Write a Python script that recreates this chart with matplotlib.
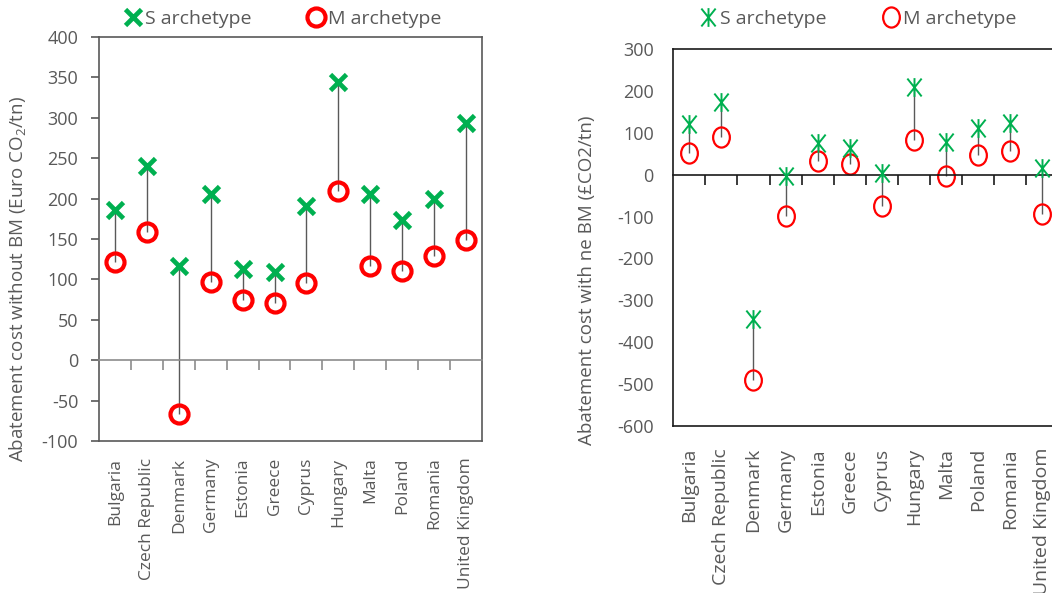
import numpy as np
import matplotlib
matplotlib.use('Agg')
import matplotlib.pyplot as plt
from matplotlib.path import Path

plt.rcParams['font.family'] = ['Open Sans', 'DejaVu Sans']
plt.rcParams['mathtext.default'] = 'regular'
plt.rcParams['axes.unicode_minus'] = False

countries = ['Bulgaria', 'Czech Republic', 'Denmark', 'Germany', 'Estonia', 'Greece',
             'Cyprus', 'Hungary', 'Malta', 'Poland', 'Romania', 'United Kingdom']

# abatement cost without BM (Euro CO2/tn)
s_without_bm = [186, 240, 116, 206, 113, 109, 191, 344, 206, 174, 199, 293]
m_without_bm = [122, 159, -67, 97, 74, 71, 95, 209, 117, 110, 129, 149]

# abatement cost with ne BM (GBP CO2/tn)
s_with_bm = [121, 173, -344, -2, 76, 64, 5, 211, 79, 113, 125, 17]
m_with_bm = [53, 90, -491, -99, 34, 25, -74, 83, -2, 47, 57, -93]

TEXT_GREY = '#595959'
GREEN = '#00b050'
RED = '#ff0000'

# excel-style asterisk (x with a vertical bar) and a slightly squeezed circle
ASTERISK = Path([(-0.8, -1), (0.8, 1), (-0.8, 1), (0.8, -1), (0, -1.05), (0, 1.05)],
                [Path.MOVETO, Path.LINETO] * 3)
_circ = Path.unit_circle()
ELLIPSE = Path(_circ.vertices * [0.83, 1.0], _circ.codes)


def style_axes(ax, ylim, ystep, frame_color, zero_color, ytick_len, ypad, xpad, xsize):
    """
    Box frame, y ticks, zero line carrying the category separators and the
    rotated country names along the bottom of the frame.
    """
    x = np.arange(len(countries))
    ax.set_xlim(-0.5, len(countries) - 0.5)
    ax.set_ylim(*ylim)
    ax.set_yticks(np.arange(ylim[0], ylim[1] + 1, ystep))

    for side in ['left', 'top', 'right']:
        ax.spines[side].set_color(frame_color)
        ax.spines[side].set_linewidth(1.2)

    # bottom spine becomes the zero line with separator ticks
    ax.spines['bottom'].set_position(('data', 0))
    ax.spines['bottom'].set_color(zero_color)
    ax.spines['bottom'].set_linewidth(1.2)
    ax.set_xticks(x)
    ax.set_xticks(x[:-1] + 0.5, minor=True)
    ax.tick_params(axis='x', which='major', length=0, labelbottom=False)
    ax.tick_params(axis='x', which='minor', length=7, width=1.2, color=zero_color, direction='out')

    ax.tick_params(axis='y', length=ytick_len, width=1.2, color=frame_color,
                   labelsize=13, labelcolor=TEXT_GREY, pad=ypad)

    # category names hang off the bottom of the frame
    sec = ax.secondary_xaxis('bottom')
    sec.set_xticks(x, labels=countries, rotation=90)
    sec.tick_params(length=0, labelsize=xsize, labelcolor=TEXT_GREY, pad=xpad)
    sec.spines['bottom'].set_color(frame_color)
    sec.spines['bottom'].set_linewidth(1.2)


def plot_pairs(ax, s_vals, m_vals, s_kw, m_kw):
    """
    Draws the S / M archetype markers joined by a thin high-low line.
    """
    x = np.arange(len(countries))
    ax.vlines(x, m_vals, s_vals, color=TEXT_GREY, lw=1, zorder=1)
    s_line, = ax.plot(x, s_vals, linestyle='none', zorder=3, label='S archetype', **s_kw)
    m_line, = ax.plot(x, m_vals, linestyle='none', zorder=2, label='M archetype', **m_kw)
    return [s_line, m_line]


fig = plt.figure(figsize=(10.52, 5.93), dpi=100)

# left: without BM
ax1 = fig.add_axes([0.0941, 0.2563, 0.364, 0.6813])
handles = plot_pairs(ax1, s_without_bm, m_without_bm,
                     dict(marker='x', ms=11, mew=3.4, color=GREEN),
                     dict(marker='o', ms=13, mew=3.0, mfc='none', mec=RED))
style_axes(ax1, (-100, 400), 50, '#595959', '#8c8c8c', ytick_len=6, ypad=9, xpad=12, xsize=12.5)
ax1.set_ylabel('Abatement cost without BM (Euro CO$_2$/tn)', fontsize=13.5, color=TEXT_GREY)
ax1.yaxis.set_label_coords(-0.185, 0.40)
ax1.legend(handles=handles, loc='center', bbox_to_anchor=(0.483, 1.045), ncol=2,
           frameon=False, fontsize=14, labelcolor=TEXT_GREY, handlelength=0.7,
           handletextpad=0.25, columnspacing=3.0, borderaxespad=0)

# right: with ne BM
ax2 = fig.add_axes([0.640, 0.2821, 0.366, 0.6347])
handles = plot_pairs(ax2, s_with_bm, m_with_bm,
                     dict(marker=ASTERISK, ms=13.5, mew=1.4, mfc='none', mec=GREEN),
                     dict(marker=ELLIPSE, ms=14.5, mew=1.6, mfc='none', mec=RED))
style_axes(ax2, (-600, 300), 100, '#1a1a1a', '#1a1a1a', ytick_len=0, ypad=14, xpad=16, xsize=14)
ax2.set_ylabel('Abatement cost with ne BM (\u00a3CO2/tn)', fontsize=13.5, color=TEXT_GREY)
ax2.yaxis.set_label_coords(-0.20, 0.387)
ax2.legend(handles=handles, loc='center', bbox_to_anchor=(0.482, 1.080), ncol=2,
           frameon=False, fontsize=14, labelcolor=TEXT_GREY, handlelength=0.7,
           handletextpad=0.25, columnspacing=3.0, borderaxespad=0)

fig.savefig('out.png', dpi=100)
